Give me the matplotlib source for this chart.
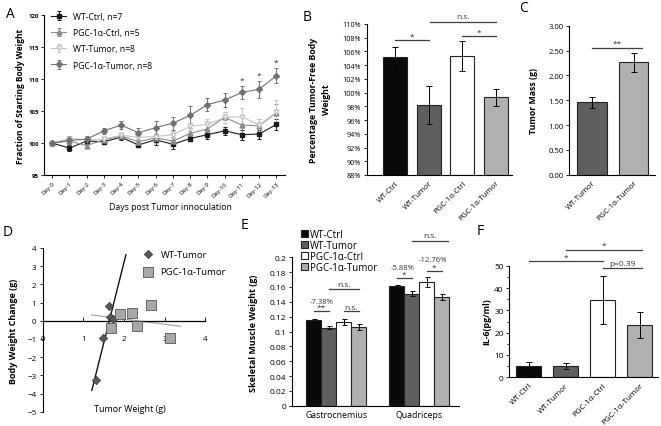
import numpy as np
import matplotlib
matplotlib.use("Agg")
import matplotlib.pyplot as plt
from matplotlib.ticker import FuncFormatter, MultipleLocator

plt.rcParams['font.family'] = ['Open Sans', 'DejaVu Sans']

W, H = 661, 427

# ---- panel A: body weight time course
days = ['Day-%d' % i for i in range(14)]
wt_ctrl = [100, 99.2, 100.3, 100.2, 100.9, 99.7, 100.5, 99.8, 100.7, 101.3, 101.9, 101.3, 101.4, 102.9]
wt_ctrl_err = [0, 0.5, 0.5, 0.4, 0.4, 0.3, 0.8, 0.7, 0.4, 0.6, 0.6, 0.8, 0.7, 0.8]
pgc_ctrl = [100, 100.3, 99.6, 100.5, 101.1, 100.2, 100.8, 100.3, 101.5, 102.2, 104.0, 102.8, 102.7, 104.7]
pgc_ctrl_err = [0, 0.4, 0.4, 0.3, 0.4, 0.4, 0.6, 0.6, 0.8, 0.7, 0.8, 1.2, 1.0, 1.4]
wt_tumor = [100, 100.7, 100.5, 100.6, 101.2, 100.9, 101.0, 101.3, 102.6, 102.9, 104.0, 104.1, 102.8, 104.8]
wt_tumor_err = [0, 0.4, 0.4, 0.4, 0.4, 0.5, 0.5, 0.5, 0.6, 0.8, 0.9, 1.3, 1.0, 1.9]
pgc_tumor = [100, 100.4, 100.6, 101.9, 102.8, 101.6, 102.4, 103.1, 104.3, 106.0, 106.7, 107.9, 108.4, 110.5]
pgc_tumor_err = [0, 0.7, 0.5, 0.5, 0.6, 0.7, 1.1, 1.0, 1.5, 1.0, 1.1, 1.0, 1.3, 1.2]
star_days = [11, 12, 13]

# ---- panel B: tumor-free body weight
groups4 = ['WT-Ctrl', 'WT-Tumor', 'PGC-1α-Ctrl', 'PGC-1α-Tumor']
colors4 = ['#0a0a0a', '#5f5f5f', '#ffffff', '#b0b0b0']
tf_weight = [105.2, 98.2, 105.3, 99.3]
tf_err = [1.5, 2.8, 2.2, 1.2]

# ---- panel C: tumor mass
tumor_groups = ['WT-Tumor', 'PGC-1α-Tumor']
tumor_mass = [1.46, 2.26]
tumor_err = [0.11, 0.19]

# ---- panel D: body weight change vs tumor weight
wt_tw = [1.64, 1.665, 1.74, 1.49, 1.32]
wt_bw = [0.82, 0.2, 0.1, -0.95, -3.28]
pgc_tw = [1.90, 2.20, 2.67, 2.33, 1.68, 3.13]
pgc_bw = [0.35, 0.44, 0.88, -0.31, -0.40, -0.93]

# ---- panel E: skeletal muscle weights
muscles = ['Gastrocnemius', 'Quadriceps']
muscle_w = {'WT-Ctrl': [0.115, 0.161], 'WT-Tumor': [0.105, 0.151],
            'PGC-1α-Ctrl': [0.113, 0.167], 'PGC-1α-Tumor': [0.106, 0.146]}
muscle_err = {'WT-Ctrl': [0.002, 0.002], 'WT-Tumor': [0.002, 0.003],
              'PGC-1α-Ctrl': [0.004, 0.007], 'PGC-1α-Tumor': [0.004, 0.004]}

# ---- panel F: IL-6
il6 = [5.0, 5.0, 34.8, 23.6]
il6_err = [2.0, 1.2, 10.7, 5.8]

fig = plt.figure(figsize=(W / 100, H / 100), dpi=100)


def ax_px(l, t, r, b):
    return fig.add_axes([l / W, 1 - b / H, (r - l) / W, (b - t) / H])


def ftext(x, y, s, **kw):
    fig.text(x / W, 1 - y / H, s, **kw)


def clean(ax):
    ax.spines['top'].set_visible(False)
    ax.spines['right'].set_visible(False)
    for s in ('left', 'bottom'):
        ax.spines[s].set_linewidth(0.8)


def sig(ax, x0, x1, y, txt, dy, fs=6, color='#404040'):
    ax.plot([x0, x1], [y, y], color=color, lw=0.9, clip_on=False)
    ax.text((x0 + x1) / 2, y + dy, txt, ha='center', va='bottom', fontsize=fs,
            color='#333333', clip_on=False)


# ================= A
ax = ax_px(43.5, 16, 285, 176)
x = np.arange(len(days))
series = [
    ('WT-Ctrl, n=7', wt_ctrl, wt_ctrl_err, '#1a1a1a', 's', '#1a1a1a'),
    ('PGC-1α-Ctrl, n=5', pgc_ctrl, pgc_ctrl_err, '#8a8a8a', '^', '#8a8a8a'),
    ('WT-Tumor, n=8', wt_tumor, wt_tumor_err, '#c4c4c4', 'v', 'white'),
    ('PGC-1α-Tumor, n=8', pgc_tumor, pgc_tumor_err, '#707070', 'D', '#707070'),
]
for lab, v, e, c, m, fc in series:
    ax.errorbar(x, v, yerr=e, color=c, marker=m, mfc=fc, mec=c, ms=3.5 if m != 'D' else 3,
                lw=0.8, elinewidth=0.7, capsize=1.6, capthick=0.7, label=lab)
for d in star_days:
    ax.text(d, pgc_tumor[d] + pgc_tumor_err[d] + 0.4, '*', ha='center', va='bottom',
            fontsize=6, color='#333333')
ax.set_xlim(-0.5, 13.5)
ax.set_ylim(95, 120)
ax.set_yticks(range(95, 121, 5))
ax.set_xticks(x)
ax.set_xticklabels(days, rotation=45, ha='right', rotation_mode='anchor', fontsize=4.3)
ax.tick_params(axis='y', labelsize=4.3, length=2.5, width=0.6, pad=1)
ax.tick_params(axis='x', length=2.5, width=0.6, pad=1.5)
for t in ax.get_yticklabels():
    t.set_fontweight('bold')
clean(ax)
ax.legend(loc='upper left', bbox_to_anchor=(0.0, 1.07), frameon=False, fontsize=6.2,
          handlelength=1.7, labelspacing=0.85, handletextpad=0.8)
ftext(21, 96, 'Fraction of Starting Body Weight', rotation=90, ha='center', va='center',
      fontsize=6, fontweight='bold')
ftext(170, 208, 'Days post Tumor innoculation', ha='center', va='center', fontsize=6.3)

# ================= B
ax = ax_px(366.7, 25, 512, 176)
xb = np.arange(4)
ax.bar(xb, np.array(tf_weight) - 88, bottom=88, width=0.72, color=colors4,
       edgecolor='#222222', lw=0.8, yerr=tf_err, capsize=2,
       error_kw=dict(elinewidth=0.7, capthick=0.7))
ax.set_xlim(-0.85, 3.48)
ax.set_ylim(88, 110)
ax.set_yticks(range(88, 111, 2))
ax.yaxis.set_major_formatter(FuncFormatter(lambda v, p: '%d%%' % v))
ax.set_xticks(xb)
ax.set_xticklabels(groups4, rotation=45, ha='right', rotation_mode='anchor', fontsize=5.6)
ax.tick_params(axis='y', labelsize=5.2, length=2.5, width=0.6, pad=1.5)
ax.tick_params(axis='x', length=0, pad=3)
clean(ax)
sig(ax, 0, 1, 107.6, '*', 0.05)
sig(ax, 1.05, 3.0, 110.3, 'n.s.', 0.25)
sig(ax, 2.0, 3.0, 108.3, '*', 0.05)
ftext(320, 100, 'Percentage Tumor-Free Body\nWeight', rotation=90, ha='center', va='center',
      fontsize=6.3, fontweight='bold', linespacing=1.6)

# ================= C
ax = ax_px(569.3, 26.7, 655, 175.7)
xc = np.arange(2)
ax.bar(xc, tumor_mass, width=0.7, color=['#5f5f5f', '#b0b0b0'], edgecolor='#222222', lw=0.8,
       yerr=tumor_err, capsize=2, error_kw=dict(elinewidth=0.7, capthick=0.7))
ax.set_xlim(-0.54, 1.51)
ax.set_ylim(0, 3)
ax.set_yticks(np.arange(0, 3.01, 0.5))
ax.yaxis.set_major_formatter(FuncFormatter(lambda v, p: '%.2f' % v))
ax.set_xticks(xc)
ax.set_xticklabels(tumor_groups, rotation=45, ha='right', rotation_mode='anchor', fontsize=5.6)
ax.tick_params(axis='y', labelsize=5.6, length=2.5, width=0.6, pad=1.5)
ax.tick_params(axis='x', length=0, pad=3)
clean(ax)
sig(ax, 0, 1.2, 2.55, '**', 0.02)
ftext(533, 101, 'Tumor Mass (g)', rotation=90, ha='center', va='center',
      fontsize=6.3, fontweight='bold')

# ================= D
ax = ax_px(42.7, 249, 225, 412.7)
ax.scatter(wt_tw, wt_bw, marker='D', s=18, color='#595959', edgecolor='#333333', lw=0.5,
           zorder=3, label='WT-Tumor')
ax.scatter(pgc_tw, pgc_bw, marker='s', s=42, color='#a8a8a8', edgecolor='#555555', lw=0.6,
           zorder=3, label='PGC-1α-Tumor')
k1, b1 = np.polyfit(wt_tw, wt_bw, 1)
xx = np.array([1.21, 2.05])
ax.plot(xx, k1 * xx + b1, color='#111111', lw=1.0, zorder=2)
k2, b2 = np.polyfit(pgc_tw, pgc_bw, 1)
xx = np.array([1.2, 3.4])
ax.plot(xx, k2 * xx + b2, color='#a0a0a0', lw=0.8, zorder=2)
ax.set_xlim(0, 4.49)
ax.set_ylim(-5, 4)
ax.spines['top'].set_visible(False)
ax.spines['right'].set_visible(False)
ax.spines['bottom'].set_position(('data', 0))
ax.spines['bottom'].set_bounds(0, 4)
ax.spines['bottom'].set_linewidth(0.9)
ax.spines['left'].set_linewidth(0.8)
ax.set_xticks(range(0, 5))
ax.set_yticks(range(-5, 5))
ax.tick_params(axis='x', direction='in', length=3, width=0.6, labelsize=5.8, pad=10)
ax.tick_params(axis='y', length=2.5, width=0.6, labelsize=5.8, pad=2)
ax.legend(loc='upper left', bbox_to_anchor=(0.48, 1.04), frameon=False, fontsize=6.8,
          handletextpad=0.3, labelspacing=0.9, scatterpoints=1)
ax.text(2.15, -4.85, 'Tumor Weight (g)', ha='center', va='center', fontsize=6.5)
ftext(14, 331, 'Body Weight Change (g)', rotation=90, ha='center', va='center',
      fontsize=6.5, fontweight='bold')

# ================= E
ax = ax_px(291.7, 258.3, 459, 406.7)
xe = np.arange(2)
bw = 0.181
for i, g in enumerate(groups4):
    ax.bar(xe + (i - 1.5) * bw, muscle_w[g], width=bw, color=colors4[i], edgecolor='#222222',
           lw=0.8, yerr=muscle_err[g], capsize=1.8,
           error_kw=dict(elinewidth=0.7, capthick=0.7), label=g)
ax.set_xlim(-0.54, 1.48)
ax.set_ylim(0, 0.2)
ax.set_yticks(np.arange(0, 0.201, 0.02))
ax.yaxis.set_major_formatter(FuncFormatter(lambda v, p: '0' if abs(v) < 1e-9 else ('%.2f' % v).rstrip('0')))
ax.set_xticks(xe)
ax.set_xticklabels(muscles, fontsize=6.3)
ax.tick_params(axis='y', labelsize=6, length=2.5, width=0.6, pad=1.5)
ax.tick_params(axis='x', length=0, pad=3)
clean(ax)
ax.legend(loc='upper left', bbox_to_anchor=(0.03, 1.22), frameon=False, fontsize=7,
          handlelength=0.75, handleheight=0.75, handletextpad=0.25, labelspacing=0.0,
          borderaxespad=0)
p = [(i - 1.5) * bw for i in range(4)]
sig(ax, p[0], p[1], 0.128, '**', 0.0)
ax.text((p[0] + p[1]) / 2, 0.141, '-7.38%', ha='center', va='center', fontsize=5.5, color='#333333')
sig(ax, p[2], p[3], 0.127, 'n.s.', 0.001)
sig(ax, p[1], p[3], 0.157, 'n.s.', 0.002)
sig(ax, 1 + p[0], 1 + p[1], 0.172, '*', 0.0)
ax.text(0.80, 0.1865, '-5.88%', ha='center', va='center', fontsize=5.5, color='#333333')
sig(ax, 1 + p[2], 1 + p[3], 0.1815, '*', 0.0)
ax.text(1.17, 0.197, '-12.76%', ha='center', va='center', fontsize=5.5, color='#333333')
sig(ax, 1 + p[1], 1 + p[3] + 0.08, 0.2224, 'n.s.', 0.002)
ftext(253, 333, 'Skeletal Muscle Weight (g)', rotation=90, ha='center', va='center',
      fontsize=6.5, fontweight='bold')

# ================= F
ax = ax_px(509.3, 266.7, 658, 378.3)
xf = np.arange(4)
ax.bar(xf, il6, width=0.68, color=colors4, edgecolor='#222222', lw=0.8, yerr=il6_err,
       capsize=2, error_kw=dict(elinewidth=0.7, capthick=0.7))
ax.set_xlim(-0.52, 3.5)
ax.set_ylim(0, 50)
ax.set_yticks(range(0, 51, 10))
ax.yaxis.set_minor_locator(MultipleLocator(5))
ax.set_xticks(xf)
ax.set_xticklabels(groups4, rotation=45, ha='right', rotation_mode='anchor', fontsize=5.8)
ax.tick_params(axis='y', which='major', labelsize=6, length=2.5, width=0.6, pad=1.5)
ax.tick_params(axis='y', which='minor', length=1.5, width=0.6)
ax.tick_params(axis='x', length=0, pad=3)
clean(ax)
sig(ax, 0, 2, 52, '*', 0.3)
sig(ax, 1, 3.06, 57.2, '*', 0.3)
sig(ax, 2, 3.06, 49, 'p=0.39', 0.4)
ftext(487, 322, 'IL-6(pg/ml)', rotation=90, ha='center', va='center',
      fontsize=6.3, fontweight='bold')

# panel letters
for lt, (px, py) in zip('ABCDEF', [(10, 15), (307, 17.5), (524, 8.5), (7.5, 232.5),
                                   (244.5, 226), (480.5, 231.5)]):
    ftext(px, py, lt, ha='center', va='center', fontsize=10)

fig.savefig('out.png', dpi=100)
